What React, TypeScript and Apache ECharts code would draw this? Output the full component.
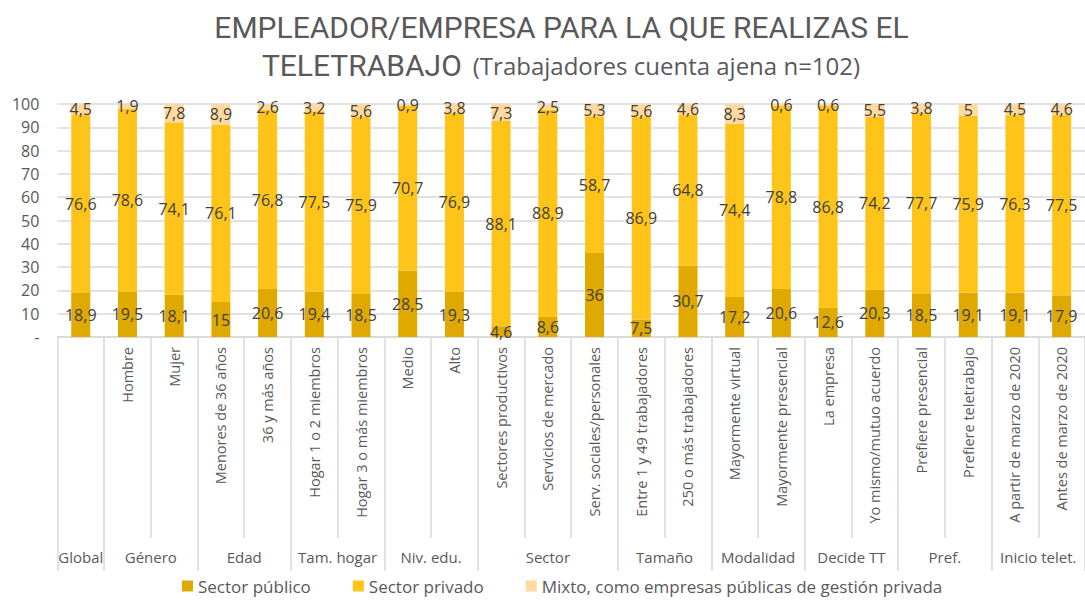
import React, { useEffect, useRef } from "react";
import * as echarts from "echarts";

const categories = [
  "",
  "Hombre",
  "Mujer",
  "Menores de 36 años",
  "36 y más años",
  "Hogar 1 o 2 miembros",
  "Hogar 3 o más miembros",
  "Medio",
  "Alto",
  "Sectores productivos",
  "Servicios de mercado",
  "Serv. sociales/personales",
  "Entre 1 y 49 trabajadores",
  "250 o más trabajadores",
  "Mayormente virtual",
  "Mayormente presencial",
  "La empresa",
  "Yo mismo/mutuo acuerdo",
  "Prefiere presencial",
  "Prefiere teletrabajo",
  "A partir de marzo de 2020",
  "Antes de marzo de 2020",
];

const publico = [18.9, 19.5, 18.1, 15, 20.6, 19.4, 18.5, 28.5, 19.3, 4.6, 8.6, 36, 7.5, 30.7, 17.2, 20.6, 12.6, 20.3, 18.5, 19.1, 19.1, 17.9];
const privado = [76.6, 78.6, 74.1, 76.1, 76.8, 77.5, 75.9, 70.7, 76.9, 88.1, 88.9, 58.7, 86.9, 64.8, 74.4, 78.8, 86.8, 74.2, 77.7, 75.9, 76.3, 77.5];
const mixto = [4.5, 1.9, 7.8, 8.9, 2.6, 3.2, 5.6, 0.9, 3.8, 7.3, 2.5, 5.3, 5.6, 4.6, 8.3, 0.6, 0.6, 5.5, 3.8, 5, 4.5, 4.6];

const groupNames = ["Global", "Género", "Edad", "Tam. hogar", "Niv. edu.", "Sector", "Tamaño", "Modalidad", "Decide TT", "Pref.", "Inicio telet."];
const groupBounds = [0, 1, 3, 5, 7, 9, 12, 14, 16, 18, 20, 22];

const yTicks = [0, 10, 20, 30, 40, 50, 60, 70, 80, 90, 100];

const seriesNames = ["Sector público", "Sector privado", "Mixto, como empresas públicas de gestión privada"];

const FONT = "'Open Sans', sans-serif";
const GRAY = "#595959";
const LINE = "#D9D9D9";

export default function App() {
  const ref = useRef<HTMLDivElement>(null);

  useEffect(() => {
    if (!ref.current) return;
    const chart = echarts.init(ref.current, null, { renderer: "svg" });

    const groupCenters = groupNames.map((_, i) => (groupBounds[i] + groupBounds[i + 1]) / 2);
    const fmt = (v: number) => String(v).replace(".", ",");

    const label = {
      show: true,
      position: "inside",
      color: "#404040",
      fontSize: 16,
      fontFamily: FONT,
      formatter: (p: any) => fmt(p.value),
    };

    const mk = (name: string, data: number[], color: string) => ({
      name,
      type: "bar",
      stack: "total",
      data,
      barWidth: 19,
      itemStyle: { color },
      label,
      emphasis: { disabled: true },
    });

    chart.setOption({
      animation: false,
      textStyle: { fontFamily: FONT },
      graphic: [
        {
          type: "text",
          x: 561.5,
          y: 27,
          style: {
            text: "EMPLEADOR/EMPRESA PARA LA QUE REALIZAS EL",
            font: "30px Roboto, sans-serif",
            fill: GRAY,
            textAlign: "center",
            textVerticalAlign: "middle",
          },
        },
        {
          type: "text",
          x: 561,
          y: 65,
          style: {
            text: "{a|TELETRABAJO}{b|(Trabajadores cuenta ajena n=102)}",
            textAlign: "center",
            textVerticalAlign: "middle",
            rich: {
              a: { fontFamily: "Roboto, sans-serif", fontSize: 30, fill: GRAY, color: GRAY, padding: [0, 11, 0, 0] },
              b: { fontFamily: "'Open Sans', sans-serif", fontSize: 24, fill: GRAY, color: GRAY },
            },
          },
        },
      ],
      legend: {
        left: 182,
        top: 576,
        padding: 0,
        icon: "rect",
        itemWidth: 11,
        itemHeight: 11,
        itemGap: 42,
        textStyle: { color: GRAY, fontSize: 17, fontFamily: FONT, lineHeight: 20 },
        data: seriesNames,
      },
      grid: { left: 57.4, top: 104, width: 1032.6, height: 233, containLabel: false },
      xAxis: [
        {
          type: "category",
          data: categories,
          position: "bottom",
          axisLine: { show: true, lineStyle: { color: LINE, width: 1.5 } },
          axisTick: { show: true, alignWithLabel: false, interval: 0, length: 201, lineStyle: { color: LINE, width: 1.5 } },
          axisLabel: {
            interval: 0,
            rotate: 90,
            margin: 10,
            color: GRAY,
            fontSize: 14.5,
            fontFamily: FONT,
          },
          splitLine: { show: false },
        },
        {
          type: "value",
          position: "bottom",
          offset: 201,
          min: 0,
          max: 22,
          axisLine: { show: false },
          splitLine: { show: false },
          axisTick: {
            show: true,
            customValues: groupBounds,
            length: 33,
            lineStyle: { color: LINE, width: 1.5 },
          },
          axisLabel: {
            customValues: groupCenters,
            margin: 11,
            color: GRAY,
            fontSize: 15,
            fontFamily: FONT,
            formatter: (v: number) => {
              const i = groupCenters.findIndex((c) => Math.abs(c - v) < 1e-6);
              return i >= 0 ? groupNames[i] : "";
            },
          },
        },
      ],
      yAxis: {
        type: "value",
        min: 0,
        max: 100,
        interval: 10,
        axisLine: { show: false },
        axisTick: { show: false },
        splitLine: { show: true, lineStyle: { color: LINE, width: 1.5 } },
        axisLabel: {
          margin: 18,
          color: GRAY,
          fontSize: 16,
          fontFamily: FONT,
          formatter: (v: number) => (v === 0 ? "-" : String(yTicks[yTicks.indexOf(v)])),
        },
      },
      series: [
        mk(seriesNames[0], publico, "#DFA900"),
        mk(seriesNames[1], privado, "#FFC419"),
        mk(seriesNames[2], mixto, "#FFD99F"),
      ],
    });

    return () => chart.dispose();
  }, []);

  return (
    <div
      ref={ref}
      style={{ position: "absolute", left: 0, top: 0, width: 1085, height: 601, background: "#fff" }}
    />
  );
}
